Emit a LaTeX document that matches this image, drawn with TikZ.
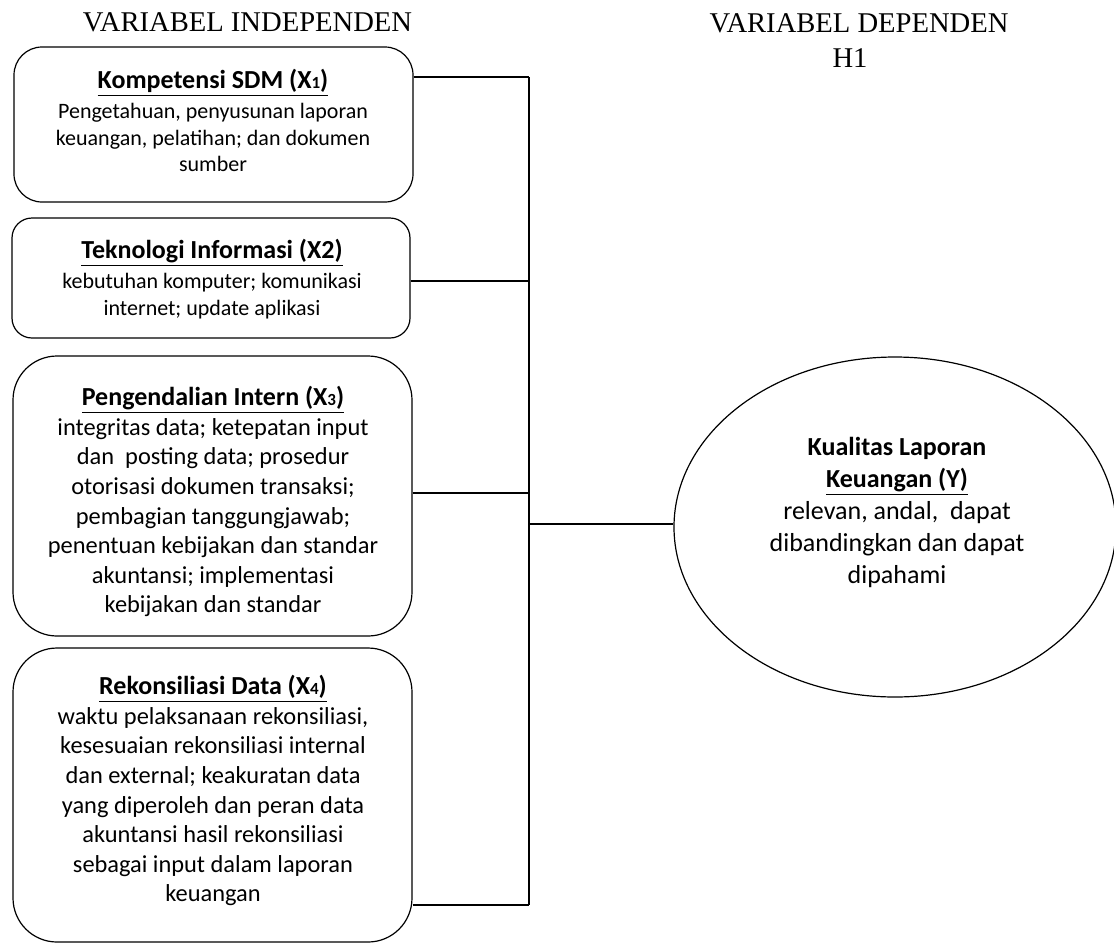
\documentclass[tikz,border=0pt]{standalone}
\usepackage{fontspec}
\setmainfont{Carlito}
\newfontfamily\headfont{Liberation Serif}
\usetikzlibrary{shapes.geometric}
\newcommand{\xsub}[1]{{\fontsize{8.5}{8.5}\selectfont #1}}
\newcommand{\vartitle}{\rule{0pt}{11pt}\fontsize{13}{14}\selectfont\bfseries}
\begin{document}
\begin{tikzpicture}[x=0.5pt, y=-0.5pt, line join=round, line width=0.6pt,
        header/.style={font=\headfont\fontsize{14.3}{17.5}\selectfont, anchor=base, inner sep=0pt},
        varbox/.style={draw, rounded corners=#1, inner sep=0pt, minimum width=199.5pt},
        vartext/.style 2 args={align=center, anchor=north, inner sep=0pt, font=\fontsize{#1}{#2}\selectfont}]
    \useasboundingbox (0,0) rectangle (1114,944);
    % judul kolom
    \node[header] (indep) at (247.5,31) {VARIABEL INDEPENDEN};
    \node[header] (dep) at (859,32) {VARIABEL DEPENDEN};
    \node[header] (hipotesis) at (850,67) {H1};
    % kotak variabel independen
    \node[varbox=14pt, minimum height=77.5pt] (kompetensi) at (213.5,124.5) {};
    \node[varbox=10pt, minimum width=199pt, minimum height=60pt] (teknologi) at (211,278) {};
    \node[varbox=22pt, minimum height=140pt] (pengendalian) at (212.5,496) {};
    \node[varbox=22pt, minimum height=147pt] (rekonsiliasi) at (212.5,795) {};
    \node[vartext={11}{13.25}] (kompetensi-txt) at (213,66) {%
        {\vartitle\underline{Kompetensi SDM (X\xsub{1})}}\\[1.75pt]
        Pengetahuan, penyusunan laporan\\
        keuangan, pelatihan; dan dokumen\\
        sumber};
    \node[vartext={11}{13.5}] (teknologi-txt) at (212,236) {%
        {\vartitle\underline{Teknologi Informasi (X2)}}\\[1.5pt]
        kebutuhan komputer; komunikasi\\
        internet; update aplikasi};
    \node[vartext={12.2}{14.8}] (pengendalian-txt) at (213,383) {%
        {\vartitle\underline{Pengendalian Intern (X\xsub{3})}}\\
        integritas data; ketepatan input\\
        dan\ \ posting data; prosedur\\
        otorisasi dokumen transaksi;\\
        pembagian tanggungjawab;\\
        penentuan kebijakan dan standar\\
        akuntansi; implementasi\\
        kebijakan dan standar};
    \node[vartext={12.2}{14.8}] (rekonsiliasi-txt) at (213,672) {%
        {\vartitle\underline{Rekonsiliasi Data (X\xsub{4})}}\\
        waktu pelaksanaan rekonsiliasi,\\
        kesesuaian rekonsiliasi internal\\
        dan external; keakuratan data\\
        yang diperoleh dan peran data\\
        akuntansi hasil rekonsiliasi\\
        sebagai input dalam laporan\\
        keuangan};
    % variabel dependen
    \node[draw, ellipse, inner sep=0pt, minimum width=221pt, minimum height=170pt] (kualitas) at (895,527) {};
    \node[vartext={13}{16}] (kualitas-txt) at (897,433) {%
        \rule{0pt}{11pt}\textbf{Kualitas Laporan}\\
        \textbf{\underline{Keuangan (Y)}}\\
        relevan, andal,\ \ dapat\\
        dibandingkan dan dapat\\
        dipahami};
    % garis penghubung
    \coordinate (bus1) at (529,77);
    \coordinate (bus2) at (529,281);
    \coordinate (bus3) at (529,493);
    \coordinate (bus4) at (529,905);
    \coordinate (busY) at (529,524);
    \draw (bus1) -- (bus4);
    \foreach \var/\tap in {kompetensi/bus1, teknologi/bus2, pengendalian/bus3, rekonsiliasi/bus4}
        \draw (\var.east |- \tap) -- (\tap);
    \draw (busY) -- (kualitas.west |- busY);
\end{tikzpicture}
\end{document}
